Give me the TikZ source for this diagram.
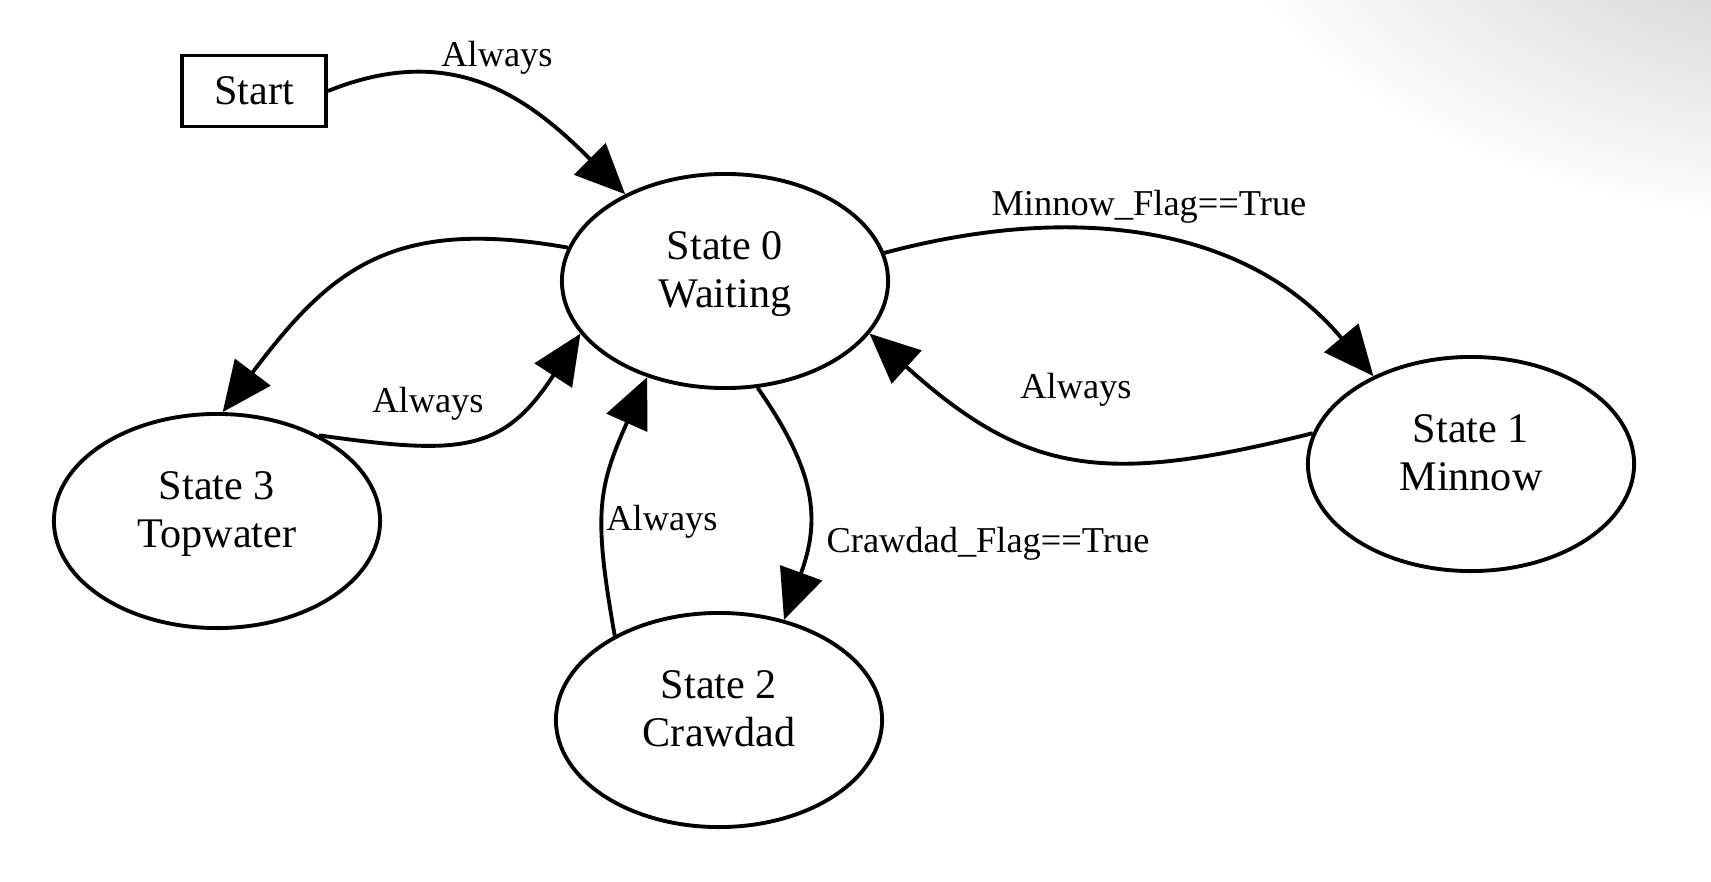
\documentclass[tikz,border=0pt]{standalone}
\usepackage{fontspec}
\setmainfont{Liberation Serif}
\usetikzlibrary{positioning,shapes.geometric,arrows.meta}

\begin{document}
\begin{tikzpicture}[x=0.01cm, y=0.01cm,
    state/.style={ellipse, draw, line width=1.1pt, minimum width=3.26cm, minimum height=2.14cm,
      inner sep=0pt, align=center, font=\fontsize{12}{13.66}\selectfont,
      execute at end node={\vrule width 0pt height 0pt depth 6.4pt}},
    startbox/.style={rectangle, draw, line width=1.1pt, minimum width=1.44cm, minimum height=0.71cm,
      inner sep=0pt, font=\fontsize{12}{13.66}\selectfont},
    lbl/.style={inner sep=0pt, font=\fontsize{10.35}{12}\selectfont},
    trans/.style={line width=1.1pt, -{Triangle[length=0.5cm, width=0.44cm]}}]
            \useasboundingbox (0,0) rectangle (1711,-881);
            % grey glow in the corner
            \begin{scope}
              \clip (0,0) rectangle (1711,-881);
              \shade[inner color=black!25, outer color=white] (1850,150) ellipse (650 and 380);
            \end{scope}
            % states
            \node[startbox] (start) at (254,-91) {Start};
            \node[state] (s0) at (725,-281) {State 0\\Waiting};
            \node[state] (s1) at (1471,-464) {State 1\\Minnow};
            \node[state] (s2) at (719,-720) {State 2\\Crawdad};
            \node[state] (s3) at (217,-521) {State 3\\Topwater};
            % transitions
            \draw[trans] (start.east) to[out=22, in=135, looseness=1.1] (s0.139);
            \draw[trans] (s0.10) to[out=15, in=130] (s1.138);
            \draw[trans] (s1.169) to[out=194, in=-42, looseness=1.2] (s0.-20);
            \draw[trans] (s0.168) to[out=170, in=53, looseness=1.2] (s3.87);
            \draw[trans] (s3.40) to[out=-8, in=-123, looseness=1.3] (s0.200);
            \draw[trans] (s0.-73) to[out=-55, in=70, looseness=1.15] (s2.57);
            \draw[trans] (s2.141) to[out=100, in=-114, looseness=1.2] (s0.231);
            % labels
            \node[lbl] (lstart) at (497,-58) {Always};
            \node[lbl] (lminnow) at (1149,-207) {Minnow\_Flag==True};
            \node[lbl] (ltopwater) at (428,-404) {Always};
            \node[lbl] (lminback) at (1076,-390) {Always};
            \node[lbl] (lcrawback) at (662,-522) {Always};
            \node[lbl] (lcrawdad) at (988,-544) {Crawdad\_Flag==True};
\end{tikzpicture}
\end{document}
